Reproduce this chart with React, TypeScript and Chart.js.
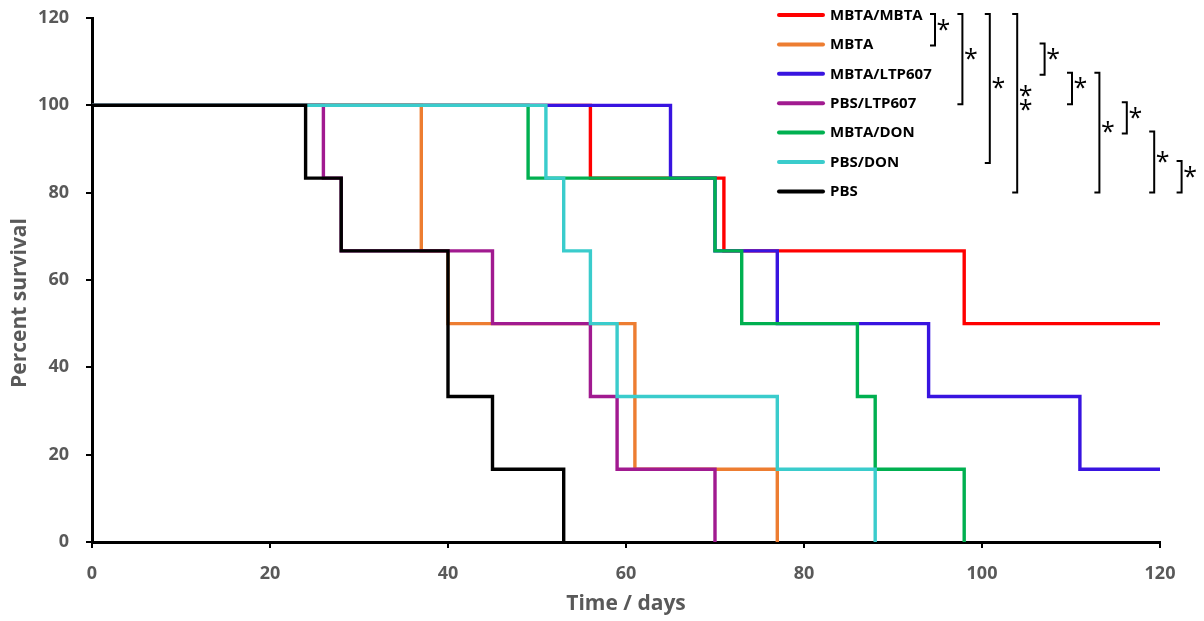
import React, { useEffect, useRef } from 'react';
import { Chart, registerables } from 'chart.js';

Chart.register(...registerables);

// Treatment groups, in legend order
const groups = ['MBTA/MBTA', 'MBTA', 'MBTA/LTP607', 'PBS/LTP607', 'MBTA/DON', 'PBS/DON', 'PBS'];
const groupColors = ['#FF0000', '#ED7D31', '#3814E0', '#A11A90', '#00B050', '#3ACCCC', '#000000'];

// Kaplan-Meier steps: day of each event and percent surviving after it
const mbtaMbtaDays = [0, 56, 71, 98, 120];
const mbtaMbtaSurvival = [100, 83.33, 66.67, 50, 50];
const mbtaDays = [0, 37, 40, 61, 77];
const mbtaSurvival = [100, 66.67, 50, 16.67, 0];
const mbtaLtpDays = [0, 65, 70, 77, 94, 111, 120];
const mbtaLtpSurvival = [100, 83.33, 66.67, 50, 33.33, 16.67, 16.67];
const pbsLtpDays = [0, 26, 28, 45, 56, 59, 70];
const pbsLtpSurvival = [100, 83.33, 66.67, 50, 33.33, 16.67, 0];
const mbtaDonDays = [0, 49, 70, 73, 86, 88, 98];
const mbtaDonSurvival = [100, 83.33, 66.67, 50, 33.33, 16.67, 0];
const pbsDonDays = [0, 51, 53, 56, 59, 77, 88];
const pbsDonSurvival = [100, 83.33, 66.67, 50, 33.33, 16.67, 0];
const pbsDays = [0, 24, 28, 40, 45, 53];
const pbsSurvival = [100, 83.33, 66.67, 33.33, 16.67, 0];

const allDays = [mbtaMbtaDays, mbtaDays, mbtaLtpDays, pbsLtpDays, mbtaDonDays, pbsDonDays, pbsDays];
const allSurvival = [mbtaMbtaSurvival, mbtaSurvival, mbtaLtpSurvival, pbsLtpSurvival, mbtaDonSurvival, pbsDonSurvival, pbsSurvival];

// Axis ranges and titles
const xMax = 120;
const yMax = 120;
const tickStep = 20;
const xTitle = 'Time / days';
const yTitle = 'Percent survival';

// Pairwise significance: [first legend row, last legend row, number of stars]
const comparisons: [number, number, number][] = [
  [0, 1, 1],
  [0, 3, 1],
  [0, 5, 1],
  [0, 6, 2],
  [1, 2, 1],
  [2, 3, 1],
  [2, 6, 1],
  [3, 4, 1],
  [4, 6, 1],
  [5, 6, 1],
];

const FONT = '"Open Sans", "DejaVu Sans", sans-serif';
const GREY = '#595959';

const legendPlugin = {
  id: 'survivalAnnotations',
  afterDraw(chart: Chart) {
    const ctx = chart.ctx;
    const area = chart.chartArea;
    ctx.save();

    // axis titles
    ctx.fillStyle = GREY;
    ctx.font = `bold 21px ${FONT}`;
    ctx.textAlign = 'center';
    ctx.textBaseline = 'middle';
    ctx.fillText(xTitle, (area.left + area.right) / 2, 604);
    ctx.save();
    ctx.translate(20, 303);
    ctx.rotate(-Math.PI / 2);
    ctx.fillText(yTitle, 0, 0);
    ctx.restore();

    // legend
    const rowY = (i: number) => 15 + 29.4 * i;
    groups.forEach((g, i) => {
      const y = rowY(i);
      ctx.strokeStyle = groupColors[i];
      ctx.lineWidth = 4;
      ctx.lineCap = 'round';
      ctx.beginPath();
      ctx.moveTo(779, y);
      ctx.lineTo(823, y);
      ctx.stroke();
      ctx.fillStyle = '#000';
      ctx.font = `bold 15px ${FONT}`;
      ctx.textAlign = 'left';
      ctx.textBaseline = 'middle';
      ctx.fillText(g, 830, y + 0.5);
    });

    // significance brackets
    ctx.strokeStyle = '#000';
    ctx.lineWidth = 2;
    ctx.lineCap = 'butt';
    ctx.font = `25px ${FONT}`;
    const m = ctx.measureText('*');
    const asc = m.actualBoundingBoxAscent;
    const desc = m.actualBoundingBoxDescent;
    comparisons.forEach(([a, b, stars], k) => {
      const x = 935 + 27.4 * k;
      const y1 = rowY(a) - 1;
      const y2 = rowY(b) + 1;
      ctx.beginPath();
      ctx.moveTo(x - 5, y1);
      ctx.lineTo(x, y1);
      ctx.lineTo(x, y2);
      ctx.lineTo(x - 5, y2);
      ctx.stroke();
      const mid = (y1 + y2) / 2;
      ctx.fillStyle = '#000';
      ctx.textAlign = 'center';
      ctx.textBaseline = 'alphabetic';
      for (let s = 0; s < stars; s++) {
        const cy = mid + (s - (stars - 1) / 2) * 14 + 2;
        ctx.fillText('*', x + 8.5, cy + (asc - desc) / 2);
      }
    });
    ctx.restore();
  },
};

export default function App() {
  const ref = useRef<HTMLCanvasElement>(null);

  useEffect(() => {
    if (!ref.current) return;
    const datasets = groups.map((g, i) => ({
      label: g,
      data: allDays[i].map((d, k) => ({ x: d, y: allSurvival[i][k] })),
      borderColor: groupColors[i],
      backgroundColor: groupColors[i],
      borderWidth: 3.4,
      pointRadius: 0,
      stepped: true as const,
      fill: false,
      order: groups.length - 1 - i,
      clip: 6,
    }));

    const axisCommon = {
      type: 'linear' as const,
      min: 0,
      grid: {
        display: true,
        drawOnChartArea: false,
        drawTicks: true,
        tickLength: 6,
        color: '#000',
        lineWidth: 2,
      },
      border: { display: true, color: '#000', width: 3 },
    };

    const chart = new Chart(ref.current, {
      type: 'line',
      data: { datasets },
      options: {
        animation: false,
        responsive: false,
        layout: { padding: { top: 18, right: 44, left: 0, bottom: 0 } },
        plugins: { legend: { display: false }, tooltip: { enabled: false } },
        scales: {
          x: {
            ...axisCommon,
            max: xMax,
            ticks: {
              stepSize: tickStep,
              color: GREY,
              font: { family: FONT, size: 18, weight: 'bold' },
              padding: 15,
              maxRotation: 0,
            },
            afterFit: (s: any) => {
              s.height = 79;
              s.paddingLeft = 0;
              s.paddingRight = 0;
            },
          },
          y: {
            ...axisCommon,
            max: yMax,
            ticks: {
              stepSize: tickStep,
              color: GREY,
              font: { family: FONT, size: 18, weight: 'bold' },
              padding: 17,
            },
            afterFit: (s: any) => {
              s.width = 92;
              s.paddingTop = 0;
              s.paddingBottom = 0;
            },
          },
        },
      },
      plugins: [legendPlugin],
    });
    return () => chart.destroy();
  }, []);

  return (
    <div style={{ position: 'fixed', left: 0, top: 0, width: 1204, height: 621, background: '#fff' }}>
      <canvas ref={ref} width={1204} height={621} style={{ display: 'block' }} />
    </div>
  );
}
